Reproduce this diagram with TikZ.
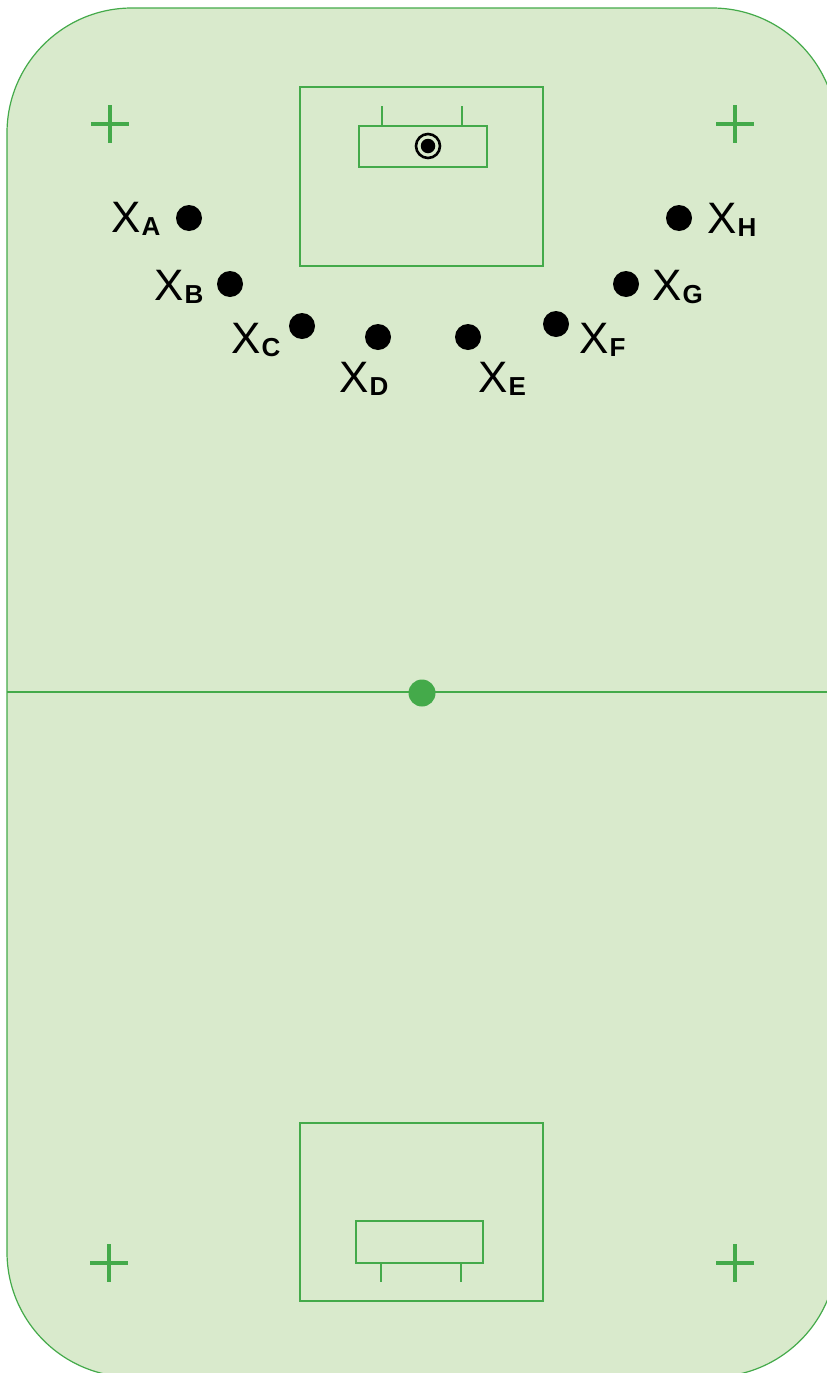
\documentclass[tikz,border=0pt]{standalone}
\usepackage{fontspec}
\setmainfont{Liberation Sans}
\definecolor{fieldfill}{HTML}{D9EACC}
\definecolor{fieldline}{HTML}{44AA4A}
\newcommand\plsub[1]{\kern1pt\raisebox{-3.5pt}{\fontsize{26}{26}\selectfont\bfseries #1}}
\tikzset{
  fline/.style={draw=fieldline, line width=2.7pt},
  crossmark/.style={draw=fieldline, line width=4.4pt},
  player/.style={circle, fill=black, minimum size=26pt, inner sep=0pt},
  lbl/.style={anchor=base west, inner sep=0pt, font=\fontsize{44}{44}\selectfont},
}
\begin{document}
\begin{tikzpicture}[x=1pt,y=-1pt]
\useasboundingbox (0,0) rectangle (827,1373);
\begin{scope}
\clip (0,0) rectangle (827,1373);
% field
\draw[draw=fieldline, line width=1.2pt, fill=fieldfill, rounded corners=125pt] (7,8) rectangle (837,1377);
% midline
\draw[draw=fieldline, line width=2.4pt] (7,692) -- (837,692);
\node[circle, fill=fieldline, minimum size=27pt, inner sep=0pt] (cdot) at (422,693) {};
% top goal area
\draw[fline] (300,87) rectangle (543,266);
\draw[fline] (359,126) rectangle (487,167);
\draw[fline] (382,106) -- (382,126);
\draw[fline] (462,106) -- (462,126);
% target
\node[circle, draw=black, line width=2.6pt, minimum size=24pt, inner sep=0pt] (tgt) at (428,146) {};
\node[circle, fill=black, minimum size=14.5pt, inner sep=0pt] (tgtc) at (428,146) {};
% bottom goal area
\draw[fline] (300,1123) rectangle (543,1301);
\draw[fline] (356,1221) rectangle (483,1263);
\draw[fline] (381,1263) -- (381,1282);
\draw[fline] (461,1263) -- (461,1282);
% crosses
\foreach \cx/\cy in {110/124, 735/124, 109/1263, 735/1263}{
  \draw[crossmark] (\cx-19,\cy) -- (\cx+19,\cy);
  \draw[crossmark] (\cx,\cy-19) -- (\cx,\cy+19);
}
\end{scope}
% players
\node[player] (pA) at (189,218) {};
\node[player] (pB) at (230,284) {};
\node[player] (pC) at (302,326) {};
\node[player] (pD) at (378,337) {};
\node[player] (pE) at (468,337) {};
\node[player] (pF) at (556,324) {};
\node[player] (pG) at (626,284) {};
\node[player] (pH) at (679,218) {};
% labels
\node[lbl] (lA) at (111,232) {X\plsub{A}};
\node[lbl] (lB) at (154,300) {X\plsub{B}};
\node[lbl] (lC) at (231,353) {X\plsub{C}};
\node[lbl] (lD) at (339,392) {X\plsub{D}};
\node[lbl] (lE) at (478,392) {X\plsub{E}};
\node[lbl] (lF) at (579,353) {X\plsub{F}};
\node[lbl] (lG) at (652,300) {X\plsub{G}};
\node[lbl] (lH) at (707,233) {X\plsub{H}};
\end{tikzpicture}
\end{document}
